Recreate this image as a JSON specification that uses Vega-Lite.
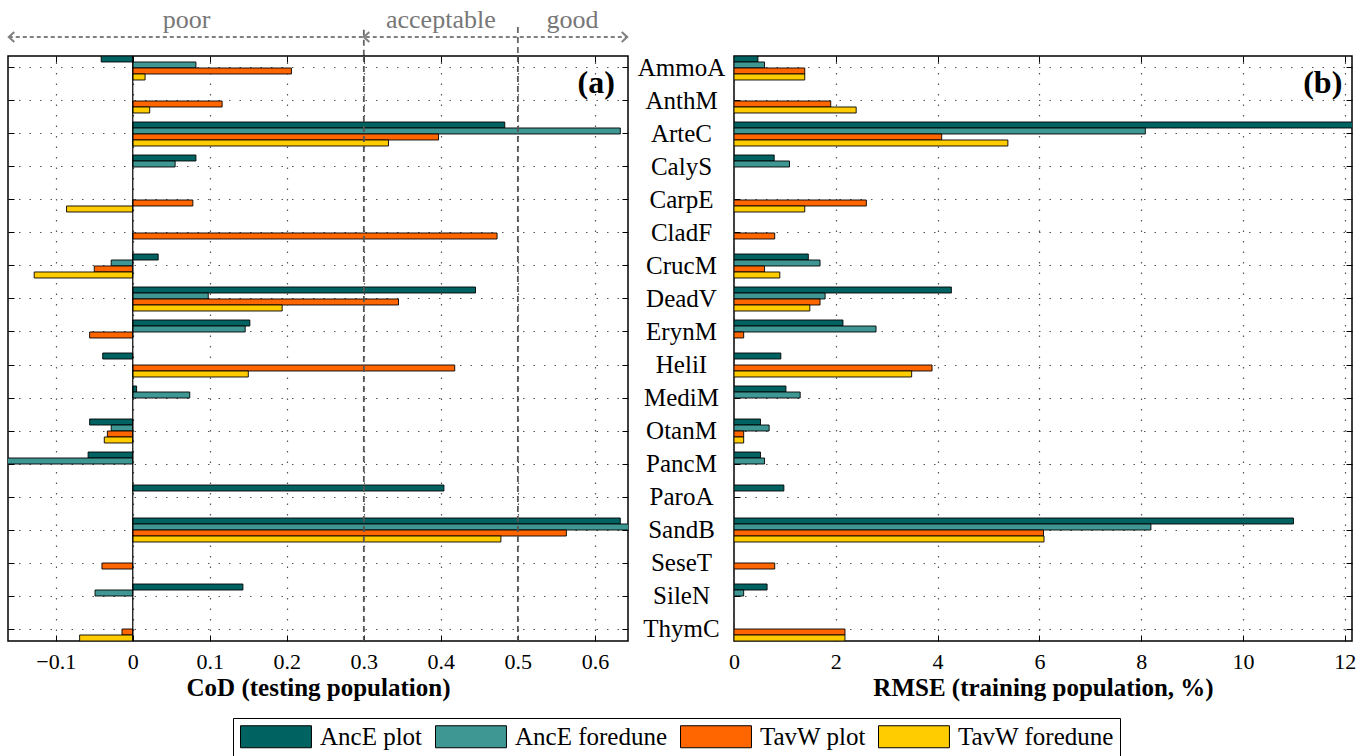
{
  "$schema": "https://vega.github.io/schema/vega-lite/v6.json",
  "padding": {"left": 4, "top": 0, "right": 14, "bottom": 4},
  "background": "white",
  "config": {
    "font": "Liberation Serif",
    "view": {"stroke": "#000", "strokeWidth": 1.5},
    "axis": {
      "labelFont": "Liberation Serif", "titleFont": "Liberation Serif",
      "labelColor": "#000", "titleColor": "#000",
      "labelFontSize": 22, "titleFontSize": 25, "titleFontWeight": "bold",
      "gridColor": "#555", "gridDash": [1.5, 9], "gridWidth": 1.2, "gridOpacity": 1,
      "tickColor": "#000", "tickWidth": 1, "domain": false,
      "labelFlush": false, "labelOverlap": false
    },
    "legend": {
      "orient": "none", "legendX": 225, "legendY": 718,
      "direction": "horizontal", "title": null,
      "labelFont": "Liberation Serif", "labelFontSize": 25, "labelColor": "#000",
      "symbolType": "M-1,-1H5.45V1H-1Z", "symbolSize": 484,
      "symbolStrokeColor": "#000", "symbolStrokeWidth": 1, "symbolOpacity": 1,
      "strokeColor": "#000", "fillColor": "#fff", "padding": 6,
      "columnPadding": 10, "labelOffset": 56
    }
  },
  "datasets": {
    "cod": [
      {"sp": "AmmoA", "s": "AncE plot", "v": -0.041},
      {"sp": "AmmoA", "s": "AncE foredune", "v": 0.082},
      {"sp": "AmmoA", "s": "TavW plot", "v": 0.206},
      {"sp": "AmmoA", "s": "TavW foredune", "v": 0.016},
      {"sp": "AnthM", "s": "TavW plot", "v": 0.116},
      {"sp": "AnthM", "s": "TavW foredune", "v": 0.022},
      {"sp": "ArteC", "s": "AncE plot", "v": 0.483},
      {"sp": "ArteC", "s": "AncE foredune", "v": 0.633},
      {"sp": "ArteC", "s": "TavW plot", "v": 0.397},
      {"sp": "ArteC", "s": "TavW foredune", "v": 0.332},
      {"sp": "CalyS", "s": "AncE plot", "v": 0.082},
      {"sp": "CalyS", "s": "AncE foredune", "v": 0.055},
      {"sp": "CarpE", "s": "TavW plot", "v": 0.078},
      {"sp": "CarpE", "s": "TavW foredune", "v": -0.086},
      {"sp": "CladF", "s": "TavW plot", "v": 0.473},
      {"sp": "CrucM", "s": "AncE plot", "v": 0.033},
      {"sp": "CrucM", "s": "AncE foredune", "v": -0.028},
      {"sp": "CrucM", "s": "TavW plot", "v": -0.050},
      {"sp": "CrucM", "s": "TavW foredune", "v": -0.128},
      {"sp": "DeadV", "s": "AncE plot", "v": 0.445},
      {"sp": "DeadV", "s": "AncE foredune", "v": 0.098},
      {"sp": "DeadV", "s": "TavW plot", "v": 0.345},
      {"sp": "DeadV", "s": "TavW foredune", "v": 0.194},
      {"sp": "ErynM", "s": "AncE plot", "v": 0.152},
      {"sp": "ErynM", "s": "AncE foredune", "v": 0.146},
      {"sp": "ErynM", "s": "TavW plot", "v": -0.056},
      {"sp": "HeliI", "s": "AncE plot", "v": -0.039},
      {"sp": "HeliI", "s": "TavW plot", "v": 0.418},
      {"sp": "HeliI", "s": "TavW foredune", "v": 0.150},
      {"sp": "MediM", "s": "AncE plot", "v": 0.005},
      {"sp": "MediM", "s": "AncE foredune", "v": 0.074},
      {"sp": "OtanM", "s": "AncE plot", "v": -0.056},
      {"sp": "OtanM", "s": "AncE foredune", "v": -0.028},
      {"sp": "OtanM", "s": "TavW plot", "v": -0.033},
      {"sp": "OtanM", "s": "TavW foredune", "v": -0.037},
      {"sp": "PancM", "s": "AncE plot", "v": -0.058},
      {"sp": "PancM", "s": "AncE foredune", "v": -0.19},
      {"sp": "ParoA", "s": "AncE plot", "v": 0.404},
      {"sp": "SandB", "s": "AncE plot", "v": 0.633},
      {"sp": "SandB", "s": "AncE foredune", "v": 0.68},
      {"sp": "SandB", "s": "TavW plot", "v": 0.563},
      {"sp": "SandB", "s": "TavW foredune", "v": 0.478},
      {"sp": "SeseT", "s": "TavW plot", "v": -0.040},
      {"sp": "SileN", "s": "AncE plot", "v": 0.143},
      {"sp": "SileN", "s": "AncE foredune", "v": -0.049},
      {"sp": "ThymC", "s": "TavW plot", "v": -0.014},
      {"sp": "ThymC", "s": "TavW foredune", "v": -0.069}
    ],
    "rmse": [
      {"sp": "AmmoA", "s": "AncE plot", "v": 0.47},
      {"sp": "AmmoA", "s": "AncE foredune", "v": 0.6},
      {"sp": "AmmoA", "s": "TavW plot", "v": 1.39},
      {"sp": "AmmoA", "s": "TavW foredune", "v": 1.39},
      {"sp": "AnthM", "s": "TavW plot", "v": 1.9},
      {"sp": "AnthM", "s": "TavW foredune", "v": 2.4},
      {"sp": "ArteC", "s": "AncE plot", "v": 12.6},
      {"sp": "ArteC", "s": "AncE foredune", "v": 8.08},
      {"sp": "ArteC", "s": "TavW plot", "v": 4.08},
      {"sp": "ArteC", "s": "TavW foredune", "v": 5.38},
      {"sp": "CalyS", "s": "AncE plot", "v": 0.79},
      {"sp": "CalyS", "s": "AncE foredune", "v": 1.09},
      {"sp": "CarpE", "s": "TavW plot", "v": 2.6},
      {"sp": "CarpE", "s": "TavW foredune", "v": 1.39},
      {"sp": "CladF", "s": "TavW plot", "v": 0.8},
      {"sp": "CrucM", "s": "AncE plot", "v": 1.46},
      {"sp": "CrucM", "s": "AncE foredune", "v": 1.69},
      {"sp": "CrucM", "s": "TavW plot", "v": 0.6},
      {"sp": "CrucM", "s": "TavW foredune", "v": 0.9},
      {"sp": "DeadV", "s": "AncE plot", "v": 4.27},
      {"sp": "DeadV", "s": "AncE foredune", "v": 1.79},
      {"sp": "DeadV", "s": "TavW plot", "v": 1.69},
      {"sp": "DeadV", "s": "TavW foredune", "v": 1.49},
      {"sp": "ErynM", "s": "AncE plot", "v": 2.14},
      {"sp": "ErynM", "s": "AncE foredune", "v": 2.79},
      {"sp": "ErynM", "s": "TavW plot", "v": 0.19},
      {"sp": "HeliI", "s": "AncE plot", "v": 0.92},
      {"sp": "HeliI", "s": "TavW plot", "v": 3.89},
      {"sp": "HeliI", "s": "TavW foredune", "v": 3.49},
      {"sp": "MediM", "s": "AncE plot", "v": 1.02},
      {"sp": "MediM", "s": "AncE foredune", "v": 1.3},
      {"sp": "OtanM", "s": "AncE plot", "v": 0.52},
      {"sp": "OtanM", "s": "AncE foredune", "v": 0.69},
      {"sp": "OtanM", "s": "TavW plot", "v": 0.19},
      {"sp": "OtanM", "s": "TavW foredune", "v": 0.19},
      {"sp": "PancM", "s": "AncE plot", "v": 0.52},
      {"sp": "PancM", "s": "AncE foredune", "v": 0.6},
      {"sp": "ParoA", "s": "AncE plot", "v": 0.98},
      {"sp": "SandB", "s": "AncE plot", "v": 10.99},
      {"sp": "SandB", "s": "AncE foredune", "v": 8.19},
      {"sp": "SandB", "s": "TavW plot", "v": 6.08},
      {"sp": "SandB", "s": "TavW foredune", "v": 6.09},
      {"sp": "SeseT", "s": "TavW plot", "v": 0.8},
      {"sp": "SileN", "s": "AncE plot", "v": 0.65},
      {"sp": "SileN", "s": "AncE foredune", "v": 0.19},
      {"sp": "ThymC", "s": "TavW plot", "v": 2.18},
      {"sp": "ThymC", "s": "TavW foredune", "v": 2.18}
    ],
    "annotText": [
      {"t": "poor", "x": 0.07, "y": 0.5},
      {"t": "acceptable", "x": 0.4, "y": 0.5},
      {"t": "good", "x": 0.571, "y": 0.5}
    ],
    "arrowLine": [{"x": -0.161, "x2": 0.642, "y": 0.34}],
    "arrowHeads": [
      {"dir": "left", "x": -0.161, "y": 0.34},
      {"dir": "left", "x": 0.3, "y": 0.34},
      {"dir": "right", "x": 0.642, "y": 0.34}
    ],
    "zonesTop": [
      {"x": 0.3, "top": 0.47, "bottom": 0},
      {"x": 0.5, "top": 0.52, "bottom": 0}
    ],
    "zones": [{"x": 0.3}, {"x": 0.5}],
    "zero": [{"x": 0}],
    "labelA": [{"t": "(a)", "x": 0.626, "sp": "AmmoA"}],
    "labelB": [{"t": "(b)", "x": 11.95, "sp": "AmmoA"}]
  },
  "columns": 2,
  "align": "each",
  "bounds": "flush",
  "spacing": {"row": 0, "column": 106},
  "concat": [
    {
      "width": 620, "height": 56,
      "view": {"stroke": null},
      "layer": [
        {
          "data": {"name": "zonesTop"},
          "mark": {"type": "rule", "color": "#666", "strokeWidth": 1.8, "strokeDash": [6, 4]},
          "encoding": {
            "x": {"field": "x", "type": "quantitative", "scale": {"domain": [-0.162, 0.643], "nice": false, "zero": false}, "axis": null},
            "y": {"field": "top", "type": "quantitative", "scale": {"domain": [0, 1]}, "axis": null},
            "y2": {"field": "bottom"}
          }
        },
        {
          "data": {"name": "arrowLine"},
          "mark": {"type": "rule", "color": "#808080", "strokeWidth": 2, "strokeDash": [4, 3]},
          "encoding": {
            "x": {"field": "x", "type": "quantitative"},
            "x2": {"field": "x2"},
            "y": {"field": "y", "type": "quantitative"}
          }
        },
        {
          "data": {"name": "arrowHeads"},
          "mark": {"type": "point", "filled": false, "stroke": "#808080", "strokeWidth": 2, "size": 100, "opacity": 1},
          "encoding": {
            "x": {"field": "x", "type": "quantitative"},
            "y": {"field": "y", "type": "quantitative"},
            "shape": {"field": "dir", "type": "nominal", "scale": {"domain": ["left", "right"], "range": ["M1.1,-1L0,0L1.1,1", "M-1.1,-1L0,0L-1.1,1"]}, "legend": null}
          }
        },
        {
          "data": {"name": "annotText"},
          "mark": {"type": "text", "fontSize": 26, "color": "#777", "baseline": "alphabetic", "align": "center", "font": "Liberation Serif"},
          "encoding": {
            "x": {"field": "x", "type": "quantitative"},
            "y": {"field": "y", "type": "quantitative"},
            "text": {"field": "t"}
          }
        }
      ]
    },
    {
      "width": 618, "height": 56,
      "view": {"stroke": null},
      "data": {"values": [{"t": ""}]},
      "mark": {"type": "text"},
      "encoding": {"text": {"field": "t"}}
    },
    {
      "width": 620, "height": 585,
      "resolve": {"axis": {"x": "independent", "y": "independent"}},
      "layer": [
        {
          "data": {"name": "cod"},
          "mark": {"type": "bar", "stroke": "#000", "strokeWidth": 0.9, "clip": true},
          "encoding": {
            "y": {"field": "sp", "type": "nominal",
                  "scale": {"domain": ["AmmoA","AnthM","ArteC","CalyS","CarpE","CladF","CrucM","DeadV","ErynM","HeliI","MediM","OtanM","PancM","ParoA","SandB","SeseT","SileN","ThymC"], "paddingInner": 0.273, "paddingOuter": 0},
                  "axis": {"title": null, "labels": false, "ticks": true, "tickSize": -6, "grid": true, "bandPosition": 0.5}},
            "yOffset": {"field": "s", "type": "nominal", "scale": {"domain": ["AncE plot","AncE foredune","TavW plot","TavW foredune"], "paddingInner": 0, "paddingOuter": 0}},
            "x": {"field": "v", "type": "quantitative", "scale": {"domain": [-0.162, 0.643], "nice": false, "zero": false},
                  "axis": {"values": [-0.1, 0, 0.1, 0.2, 0.3, 0.4, 0.5, 0.6], "format": "~g", "title": "CoD (testing population)", "grid": true, "tickSize": -6, "labelPadding": 16, "titlePadding": 3}},
            "color": {"field": "s", "type": "nominal", "scale": {"domain": ["AncE plot","AncE foredune","TavW plot","TavW foredune"], "range": ["#006361","#3f9794","#ff6600","#ffcc00"]}}
          }
        },
        {
          "data": {"name": "zero"},
          "mark": {"type": "rule", "color": "#000", "strokeWidth": 1.2},
          "encoding": {"x": {"field": "x", "type": "quantitative", "axis": null}}
        },
        {
          "data": {"name": "zones"},
          "mark": {"type": "rule", "color": "#555", "strokeWidth": 1.8, "strokeDash": [6, 4]},
          "encoding": {"x": {"field": "x", "type": "quantitative", "axis": null}}
        },
        {
          "data": {"name": "labelA"},
          "mark": {"type": "text", "fontSize": 32, "fontWeight": "bold", "align": "right", "baseline": "top", "font": "Liberation Serif"},
          "encoding": {
            "x": {"field": "x", "type": "quantitative", "axis": {"orient": "top", "values": [-0.1, 0, 0.1, 0.2, 0.3, 0.4, 0.5, 0.6], "labels": false, "title": null, "grid": false, "tickSize": -6}},
            "y": {"field": "sp", "type": "nominal", "axis": {"orient": "right", "labels": false, "title": null, "grid": false, "tickSize": -6, "bandPosition": 0.5}},
            "text": {"field": "t"}
          }
        }
      ]
    },
    {
      "width": 618, "height": 585,
      "resolve": {"axis": {"x": "independent", "y": "independent"}},
      "layer": [
        {
          "data": {"name": "rmse"},
          "mark": {"type": "bar", "stroke": "#000", "strokeWidth": 0.9, "clip": true},
          "encoding": {
            "y": {"field": "sp", "type": "nominal",
                  "scale": {"domain": ["AmmoA","AnthM","ArteC","CalyS","CarpE","CladF","CrucM","DeadV","ErynM","HeliI","MediM","OtanM","PancM","ParoA","SandB","SeseT","SileN","ThymC"], "paddingInner": 0.273, "paddingOuter": 0},
                  "axis": {"title": null, "labels": true, "labelAlign": "center", "labelBaseline": "middle", "labelFontSize": 25, "labelPadding": 59, "ticks": true, "tickSize": -6, "grid": true, "bandPosition": 0.5}},
            "yOffset": {"field": "s", "type": "nominal", "scale": {"domain": ["AncE plot","AncE foredune","TavW plot","TavW foredune"], "paddingInner": 0, "paddingOuter": 0}},
            "x": {"field": "v", "type": "quantitative", "scale": {"domain": [0, 12.14], "nice": false, "zero": false},
                  "axis": {"values": [0, 2, 4, 6, 8, 10, 12], "title": "RMSE (training population, %)", "grid": true, "tickSize": -6, "labelPadding": 16, "titlePadding": 3}},
            "color": {"field": "s", "type": "nominal", "scale": {"domain": ["AncE plot","AncE foredune","TavW plot","TavW foredune"], "range": ["#006361","#3f9794","#ff6600","#ffcc00"]}}
          }
        },
        {
          "data": {"name": "labelB"},
          "mark": {"type": "text", "fontSize": 32, "fontWeight": "bold", "align": "right", "baseline": "top", "font": "Liberation Serif"},
          "encoding": {
            "x": {"field": "x", "type": "quantitative", "axis": {"orient": "top", "values": [0, 2, 4, 6, 8, 10, 12], "labels": false, "title": null, "grid": false, "tickSize": -6}},
            "y": {"field": "sp", "type": "nominal", "axis": {"orient": "right", "labels": false, "title": null, "grid": false, "tickSize": -6, "bandPosition": 0.5}},
            "text": {"field": "t"}
          }
        }
      ]
    }
  ]
}
